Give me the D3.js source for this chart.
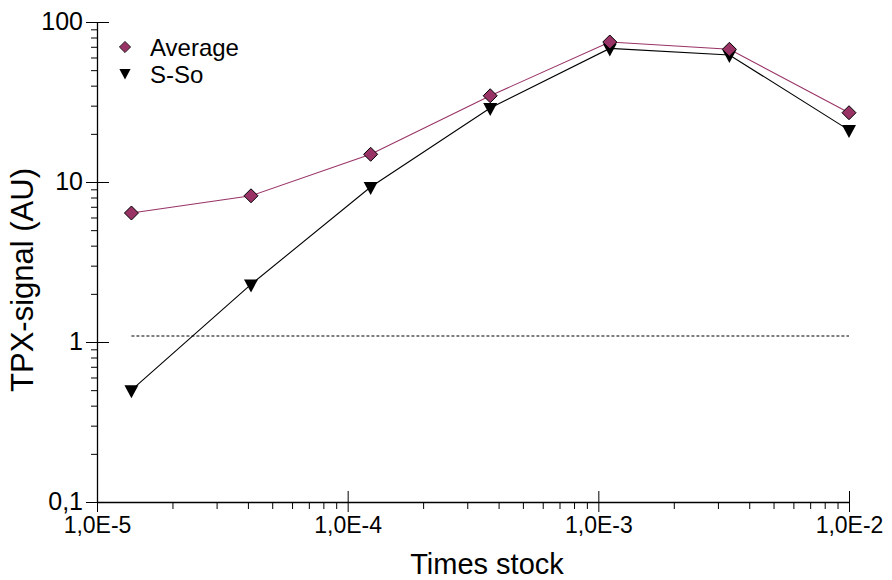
<!DOCTYPE html>
<html>
<head>
<meta charset="utf-8">
<script src="https://cdn.jsdelivr.net/npm/d3@7"></script>
<style>
  body { margin: 0; background: #fff; }
  svg { display: block; font-family: "Liberation Sans", Arial, sans-serif; }
</style>
</head>
<body>
<div id="plot_area"></div>
<script>
// data
var dilutions = [1.372e-5, 4.115e-5, 1.235e-4, 3.704e-4, 1.111e-3, 3.333e-3, 1.0e-2];
var average   = [6.4, 8.2, 14.9, 34.6, 75, 67.5, 27.1];
var sSo       = [0.5, 2.29, 9.3, 29.0, 68.4, 62.2, 21.1];
var cutoff    = 1.09;
var xMajor    = [1e-5, 1e-4, 1e-3, 1e-2];
var xLabels   = ["1,0E-5", "1,0E-4", "1,0E-3", "1,0E-2"];
var yMajor    = [0.1, 1, 10, 100];
var yLabels   = ["0,1", "1", "10", "100"];

var W = 892, H = 580;
var margin = {top: 22, right: 43, bottom: 78, left: 97},
    width = W - margin.left - margin.right,
    height = H - margin.top - margin.bottom;

var svg = d3.select('#plot_area')
  .append("svg")
    .attr("width", W)
    .attr("height", H)
  .append("g")
    .attr("transform", "translate(" + margin.left + "," + margin.top + ")")

var x = d3.scaleLog().domain([1e-5, 1e-2]).range([0, width])
var y = d3.scaleLog().domain([0.1, 100]).range([height, 0])

// minor ticks
var xMinor = x.ticks().filter(function(d) { return xMajor.indexOf(d) < 0 })
var yMinor = y.ticks().filter(function(d) { return yMajor.indexOf(d) < 0 })

svg.append("g")
  .attr("transform", "translate(0," + height + ")")
  .call(d3.axisBottom(x).tickValues(xMinor).tickSize(7).tickFormat(""))
  .select(".domain").remove()

svg.append("g")
  .call(d3.axisLeft(y).tickValues(yMinor).tickSize(6).tickFormat(""))
  .select(".domain").remove()

// major ticks with labels
var xAxis = svg.append("g")
  .attr("transform", "translate(0," + height + ")")
  .call(d3.axisBottom(x).tickValues(xMajor).tickSizeOuter(0)
        .tickFormat(function(d, i) { return xLabels[i] }))
xAxis.selectAll(".tick line").attr("y1", -11).attr("y2", 10)
xAxis.selectAll(".tick text").attr("y", 15).style("font-size", "23px")

var yAxis = svg.append("g")
  .call(d3.axisLeft(y).tickValues(yMajor).tickSizeOuter(0)
        .tickFormat(function(d, i) { return yLabels[i] }))
yAxis.selectAll(".tick line").attr("x1", 12).attr("x2", -11)
yAxis.selectAll(".tick text").attr("x", -14).attr("dy", "0.3em").style("font-size", "25px")

svg.selectAll(".tick line").attr("stroke", "#000")
svg.selectAll(".domain").attr("stroke", "#000").attr("stroke-width", 1.3)
svg.selectAll(".tick text").attr("fill", "#000")
  .attr("font-family", "Liberation Sans, Arial, sans-serif")

// axis titles
svg.append("text")
  .attr("x", width / 2 + 14)
  .attr("y", height + 72)
  .attr("text-anchor", "middle")
  .style("font-size", "29px")
  .text("Times stock")

svg.append("text")
  .attr("transform", "translate(" + (-64) + "," + (height / 2 + 18) + ") rotate(-90)")
  .attr("text-anchor", "middle")
  .style("font-size", "31px")
  .text("TPX-signal (AU)")

// dashed cutoff line
svg.append("line")
  .attr("x1", x(dilutions[0]))
  .attr("x2", x(dilutions[dilutions.length - 1]))
  .attr("y1", y(cutoff))
  .attr("y2", y(cutoff))
  .attr("stroke", "#000")
  .attr("stroke-width", 1)
  .attr("stroke-dasharray", "3,2")

var avgColor = "#993366"

var line = function(vals) {
  return d3.line()
    .x(function(d, i) { return x(dilutions[i]) })
    .y(function(d) { return y(d) })(vals)
}

svg.append("path")
  .attr("d", line(sSo))
  .attr("fill", "none")
  .attr("stroke", "#000")
  .attr("stroke-width", 1.1)

svg.append("path")
  .attr("d", line(average))
  .attr("fill", "none")
  .attr("stroke", avgColor)
  .attr("stroke-width", 1.1)

var triangle = "M-7,-5L7,-5L0,8Z"
var diamond = "M0,-7L7,0L0,7L-7,0Z"

svg.selectAll(".tri")
  .data(sSo)
  .enter()
  .append("path")
    .attr("class", "tri")
    .attr("d", triangle)
    .attr("transform", function(d, i) { return "translate(" + x(dilutions[i]) + "," + y(d) + ")" })
    .attr("fill", "#000")

svg.selectAll(".dia")
  .data(average)
  .enter()
  .append("path")
    .attr("class", "dia")
    .attr("d", diamond)
    .attr("transform", function(d, i) { return "translate(" + x(dilutions[i]) + "," + y(d) + ")" })
    .attr("fill", avgColor)
    .attr("stroke", "#000")
    .attr("stroke-width", 1)

// legend
var legend = svg.append("g").attr("transform", "translate(28,25)")
legend.append("path").attr("d", diamond).attr("fill", avgColor)
  .attr("stroke", "#000").attr("transform", "scale(0.8)")
legend.append("text").attr("x", 25).attr("y", 9).style("font-size", "24px").text("Average")
legend.append("path").attr("d", triangle).attr("fill", "#000")
  .attr("transform", "translate(0,26) scale(0.8)")
legend.append("text").attr("x", 25).attr("y", 36).style("font-size", "24px").text("S-So")
</script>
</body>
</html>
